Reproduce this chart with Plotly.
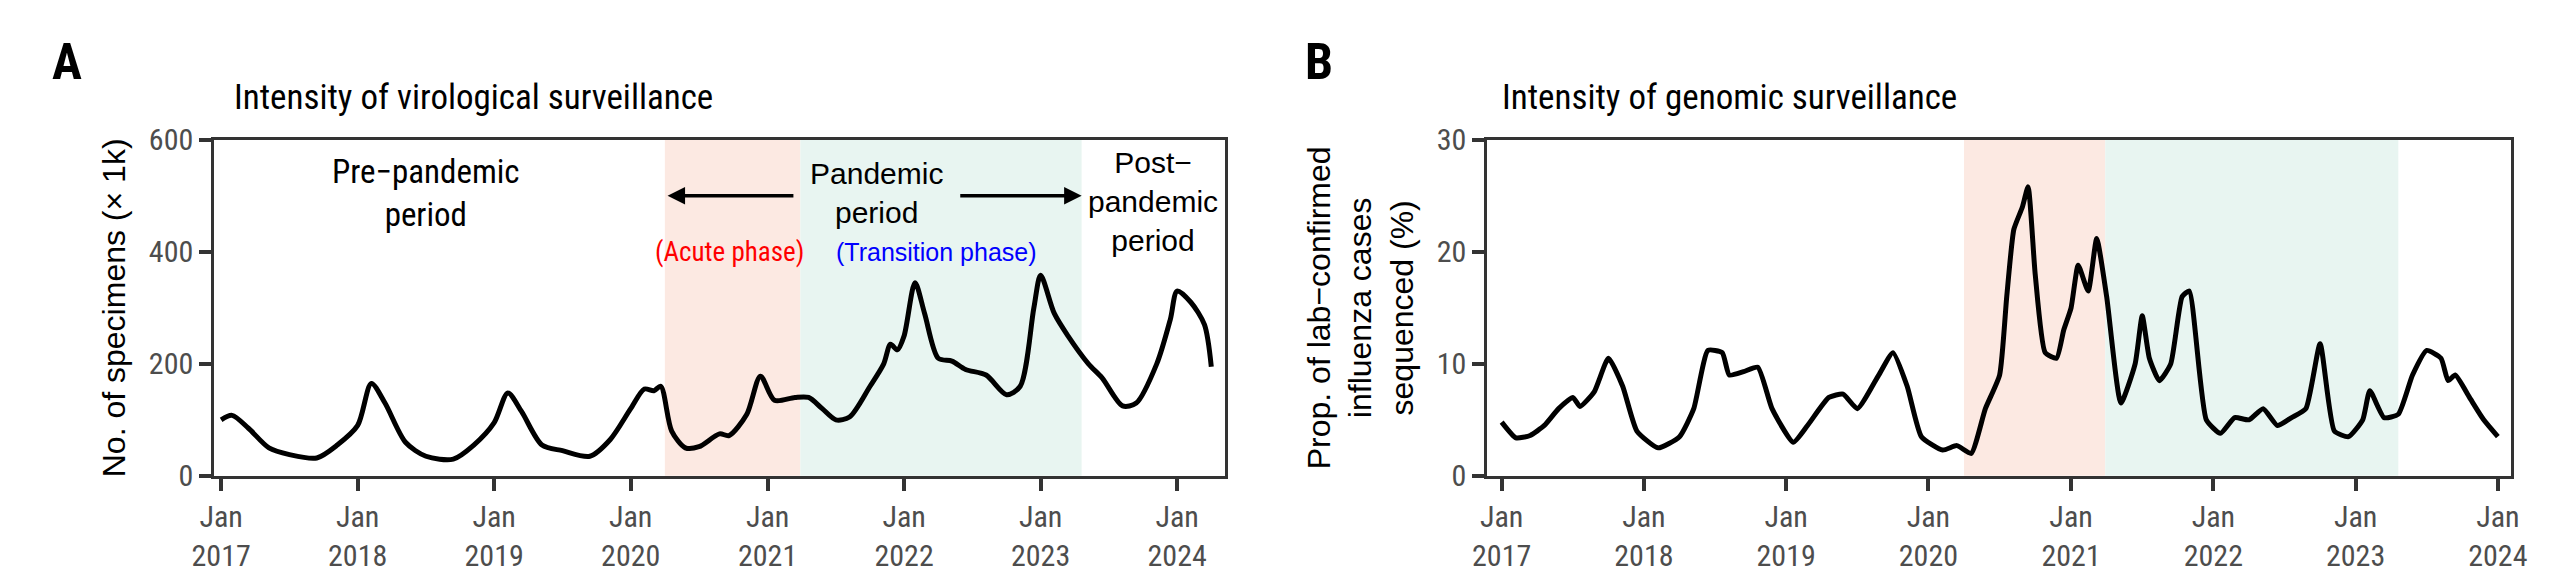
import plotly.graph_objects as go
import pandas as pd

a_t = [2017.0,2017.08,2017.2,2017.35,2017.5,2017.7,2017.85,2018.0,2018.1,2018.2,2018.35,2018.5,2018.7,2018.85,
       2019.0,2019.1,2019.2,2019.35,2019.5,2019.7,2019.85,2020.0,2020.1,2020.17,2020.22,2020.3,2020.4,2020.5,
       2020.65,2020.72,2020.85,2020.95,2021.05,2021.2,2021.3,2021.4,2021.5,2021.6,2021.75,2021.85,2021.9,2021.95,
       2022.0,2022.08,2022.15,2022.25,2022.35,2022.45,2022.6,2022.75,2022.85,2022.95,2023.0,2023.1,2023.2,
       2023.35,2023.45,2023.6,2023.7,2023.85,2023.95,2024.0,2024.1,2024.2,2024.25]
a_v = [100,108,85,50,38,32,55,90,165,130,60,35,30,55,95,148,115,55,45,35,65,120,155,152,160,80,50,52,
       75,72,110,178,135,140,140,120,100,105,160,200,235,225,250,345,290,210,205,190,180,145,160,300,358,
       290,250,200,175,125,130,200,280,330,310,270,195]

b_t = [2017.0,2017.1,2017.2,2017.3,2017.4,2017.5,2017.55,2017.65,2017.75,2017.85,2017.95,2018.1,2018.25,
       2018.35,2018.45,2018.55,2018.6,2018.7,2018.8,2018.9,2019.05,2019.15,2019.3,2019.4,2019.5,2019.65,
       2019.75,2019.85,2019.95,2020.1,2020.2,2020.3,2020.4,2020.5,2020.55,2020.6,2020.66,2020.7,2020.75,
       2020.82,2020.9,2020.95,2021.0,2021.05,2021.12,2021.18,2021.25,2021.35,2021.45,2021.5,2021.55,2021.62,
       2021.7,2021.78,2021.83,2021.95,2022.05,2022.15,2022.25,2022.35,2022.45,2022.55,2022.65,2022.75,
       2022.85,2022.95,2023.05,2023.1,2023.2,2023.3,2023.4,2023.5,2023.6,2023.65,2023.7,2023.8,2023.9,2024.0]
b_v = [4.8,3.4,3.6,4.5,6,7,6.2,7.5,10.5,8,4,2.5,3.5,6,11.2,11,9,9.3,9.7,6,3,4.5,7,7.3,6,9,11,8,3.5,
       2.3,2.7,2,6,9,16,22,24,25.8,18,11,10.5,13,15,18.8,16.5,21.2,16,6.5,10,14.3,10.5,8.5,10,16,16.5,5,
       3.8,5.2,5,6,4.5,5.2,6,11.8,4,3.5,5,7.6,5.2,5.5,9,11.2,10.5,8.5,9,7,5,3.5]

tick_years = [2017,2018,2019,2020,2021,2022,2023,2024]
acute = (2020.25, 2021.24)
transition = (2021.24, 2023.3)

def d(y):
    yr = int(y); frac = y - yr
    start = pd.Timestamp(f"{yr}-01-01")
    return start + pd.Timedelta(days=frac * 365.25)

fig = go.Figure()
fig.add_trace(go.Scatter(x=[d(t) for t in a_t], y=a_v, mode="lines", line=dict(color="black", width=5, shape="spline", smoothing=0.8), xaxis="x", yaxis="y", showlegend=False))
fig.add_trace(go.Scatter(x=[d(t) for t in b_t], y=b_v, mode="lines", line=dict(color="black", width=5, shape="spline", smoothing=0.5), xaxis="x2", yaxis="y2", showlegend=False))

for xr, yr in [("x", "y"), ("x2", "y2")]:
    fig.add_shape(type="rect", xref=xr, yref=yr + " domain", x0=d(acute[0]), x1=d(acute[1]), y0=0, y1=1, fillcolor="#fce9e2", line_width=0, layer="below")
    fig.add_shape(type="rect", xref=xr, yref=yr + " domain", x0=d(transition[0]), x1=d(transition[1]), y0=0, y1=1, fillcolor="#e8f5f1", line_width=0, layer="below")

cond = "Liberation Sans Narrow, Roboto Condensed, Arial"
tickfont = dict(family=cond, size=30, color="#4d4d4d")
ax_common = dict(type="date", tickvals=[d(y) for y in tick_years], ticktext=[f"Jan<br>{y}" for y in tick_years],
                 ticks="outside", ticklen=12, tickwidth=4, tickcolor="#333", showline=True, linecolor="#333", linewidth=2.5,
                 mirror=True, showgrid=False, zeroline=False, tickfont=tickfont)
y_common = dict(ticks="outside", ticklen=12, tickwidth=4, tickcolor="#333", showline=True, linecolor="#333", linewidth=2.5,
                mirror=True, showgrid=False, zeroline=False, tickfont=tickfont)

fig.update_layout(
    width=2560, height=578, margin=dict(l=0, r=0, t=0, b=0), plot_bgcolor="white", paper_bgcolor="white",
    font=dict(family="Arial, Liberation Sans", color="black"),
    xaxis=dict(domain=[0.073, 0.474], range=[d(2016.95), d(2024.35)], anchor="y", **ax_common),
    yaxis=dict(domain=[0.17, 0.79], range=[0, 600], tickvals=[0, 200, 400, 600], anchor="x",
               title=dict(text="No. of specimens (× 1k)", font=dict(size=32), standoff=14), **y_common),
    xaxis2=dict(domain=[0.578, 0.984], range=[d(2016.9), d(2024.09)], anchor="y2", **ax_common),
    yaxis2=dict(domain=[0.17, 0.79], range=[0, 30], tickvals=[0, 10, 20, 30], anchor="x2",
                title=dict(text="Prop. of lab−confirmed<br>influenza cases<br>sequenced (%)", font=dict(size=32), standoff=14), **y_common),
)

ann = [
    dict(text="<b>A</b>", x=0.008, y=0.99, xref="paper", yref="paper", showarrow=False, font=dict(family=cond, size=50), xanchor="left", yanchor="top"),
    dict(text="<b>B</b>", x=0.505, y=0.99, xref="paper", yref="paper", showarrow=False, font=dict(family=cond, size=50), xanchor="left", yanchor="top"),
    dict(text="Intensity of virological surveillance", x=0.08, y=0.91, xref="paper", yref="paper", showarrow=False, font=dict(family=cond, size=35), xanchor="left"),
    dict(text="Intensity of genomic surveillance", x=0.583, y=0.91, xref="paper", yref="paper", showarrow=False, font=dict(family=cond, size=35), xanchor="left"),
    dict(text="Pre−pandemic<br>period", x=d(2018.5), y=505, xref="x", yref="y", showarrow=False, font=dict(family=cond, size=33)),
    dict(text="Pandemic<br>period", x=d(2021.8), y=505, xref="x", yref="y", showarrow=False, font=dict(size=30)),
    dict(text="Post−<br>pandemic<br>period", x=d(2023.82), y=490, xref="x", yref="y", showarrow=False, font=dict(size=30)),
    dict(text="(Acute phase)", x=d(2020.72), y=400, xref="x", yref="y", showarrow=False, font=dict(family=cond, size=27, color="red")),
    dict(text="(Transition phase)", x=d(2022.24), y=400, xref="x", yref="y", showarrow=False, font=dict(size=25, color="blue")),
    dict(text="", x=d(2020.27), y=500, ax=d(2021.2), ay=500, xref="x", yref="y", axref="x", ayref="y", showarrow=True, arrowhead=2, arrowsize=1, arrowwidth=3.5, arrowcolor="black"),
    dict(text="", x=d(2023.3), y=500, ax=d(2022.4), ay=500, xref="x", yref="y", axref="x", ayref="y", showarrow=True, arrowhead=2, arrowsize=1, arrowwidth=3.5, arrowcolor="black"),
]
fig.update_layout(annotations=ann)
fig.write_html("out.html")
